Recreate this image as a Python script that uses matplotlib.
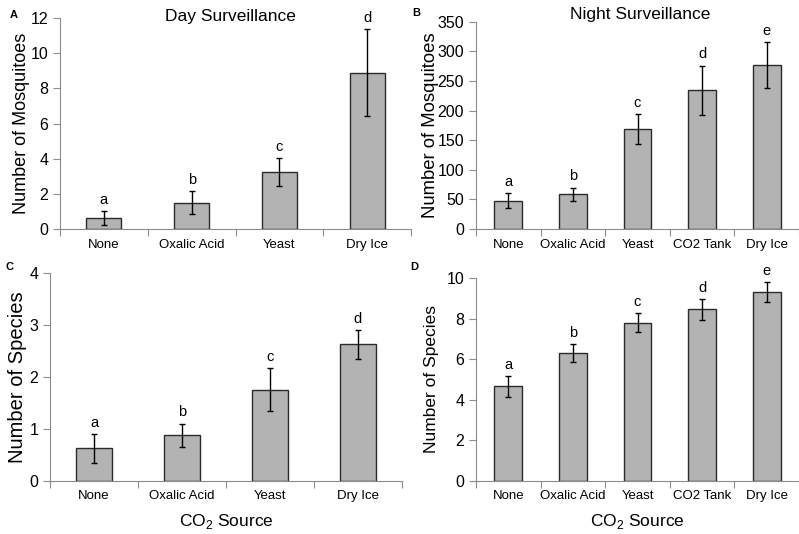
import numpy as np
import matplotlib.pyplot as plt

plt.rcParams['font.family'] = ['Liberation Sans', 'DejaVu Sans']
plt.rcParams['mathtext.fontset'] = 'custom'
plt.rcParams['mathtext.rm'] = 'Liberation Sans'

# Day surveillance (A, C)
day_cats = ['None', 'Oxalic Acid', 'Yeast', 'Dry Ice']
day_mosq = [0.62, 1.5, 3.25, 8.9]
day_mosq_err = [0.42, 0.65, 0.8, 2.45]
day_mosq_grp = ['a', 'b', 'c', 'd']
day_spec = [0.62, 0.87, 1.75, 2.62]
day_spec_err = [0.27, 0.23, 0.41, 0.27]
day_spec_grp = ['a', 'b', 'c', 'd']

# Night surveillance (B, D)
night_cats = ['None', 'Oxalic Acid', 'Yeast', 'CO2 Tank', 'Dry Ice']
night_mosq = [48, 59, 169, 234, 277]
night_mosq_err = [12, 11, 25, 42, 39]
night_mosq_grp = ['a', 'b', 'c', 'd', 'e']
night_spec = [4.65, 6.3, 7.8, 8.45, 9.3]
night_spec_err = [0.5, 0.45, 0.45, 0.52, 0.5]
night_spec_grp = ['a', 'b', 'c', 'd', 'e']

W, H = 799, 534
fig = plt.figure(figsize=(W / 100, H / 100), dpi=100)


def panel(box, cats, vals, errs, grps, ymax, ystep, ylabel, ylab_size, ylab_right,
          letter, letter_xy, title=None, title_xy=None, xlabel=None, bw=0.4):
    px_left, px_right, px_bottom, px_top = box
    width = px_right - px_left
    ax = fig.add_axes([px_left / W, 1 - px_bottom / H,
                       width / W, (px_bottom - px_top) / H])
    x = np.arange(len(cats))
    ax.bar(x, vals, width=bw, color='#b3b3b3', edgecolor='#2b2b2b',
           linewidth=1.0, zorder=2)
    ax.errorbar(x, vals, yerr=errs, fmt='none', ecolor='black',
                elinewidth=1.0, capsize=2, capthick=1.0, zorder=3)
    for xi, v, e, g in zip(x, vals, errs, grps):
        ax.annotate(g, (xi, v + e), xytext=(0, 3), textcoords='offset points',
                    ha='center', va='bottom', fontsize=10.5)
    ax.set_xlim(-0.5, len(cats) - 0.5)
    ax.set_ylim(0, ymax)
    ax.set_yticks(np.arange(0, ymax + ystep / 2, ystep))
    ax.set_xticks(np.arange(-0.5, len(cats), 1.0))
    ax.set_xticklabels([])
    ax.set_xticks(x, minor=True)
    ax.set_xticklabels(cats, minor=True, fontsize=9.5)
    ax.tick_params(axis='x', which='minor', length=0, pad=7)
    ax.tick_params(axis='x', which='major', length=5, color='#8c8c8c')
    ax.tick_params(axis='y', length=5, color='#8c8c8c', labelsize=11.5)
    for s in ['top', 'right']:
        ax.spines[s].set_visible(False)
    for s in ['left', 'bottom']:
        ax.spines[s].set_color('#8c8c8c')
    ax.set_ylabel(ylabel, fontsize=ylab_size)
    ax.yaxis.set_label_coords((ylab_right - px_left) / width, 0.5)
    if title:
        fig.text(title_xy[0] / W, 1 - title_xy[1] / H, title, fontsize=12.5,
                 ha='center', va='center')
    if xlabel:
        ax.set_xlabel(xlabel, fontsize=12.5, labelpad=7)
    fig.text(letter_xy[0] / W, 1 - letter_xy[1] / H, letter, fontsize=8,
             fontweight='bold', ha='center', va='center')
    return ax


panel((60, 411, 229, 18), day_cats, day_mosq, day_mosq_err, day_mosq_grp,
      12, 2, 'Number of Mosquitoes', 13.0, 30, 'A', (14, 15),
      title='Day Surveillance', title_xy=(230, 16))
panel((476, 799, 229, 21.7), night_cats, night_mosq, night_mosq_err, night_mosq_grp,
      350, 50, 'Number of Mosquitoes', 13.3, 439, 'B', (416, 13),
      title='Night Surveillance', title_xy=(640, 15), bw=0.43)
panel((50, 402, 480.7, 272.7), day_cats, day_spec, day_spec_err, day_spec_grp,
      4, 1, 'Number of Species', 14.5, 27, 'C', (10, 267),
      xlabel=r'CO$_\mathrm{2}$ Source')
panel((476, 799, 480.7, 278), night_cats, night_spec, night_spec_err, night_spec_grp,
      10, 2, 'Number of Species', 12.5, 439, 'D', (414, 267),
      xlabel=r'CO$_\mathrm{2}$ Source', bw=0.43)

fig.savefig('out.png', dpi=100)
